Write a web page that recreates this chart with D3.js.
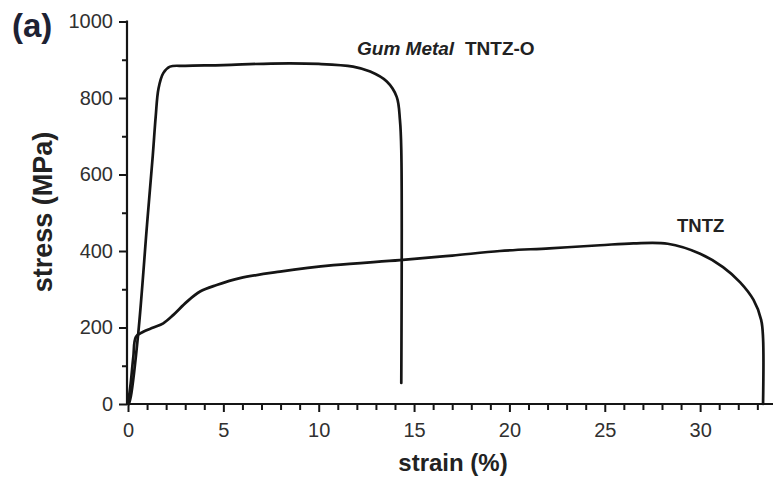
<!DOCTYPE html>
<html>
<head>
<meta charset="utf-8">
<script src="https://cdn.jsdelivr.net/npm/d3@7"></script>
<style>
html,body{margin:0;padding:0;background:#fff;}
svg{display:block;font-family:"Liberation Sans",Arial,sans-serif;}
</style>
</head>
<body>
<svg id="chart" width="773" height="477"></svg>
<script>
// ---- data ----
const xTicks = [0, 5, 10, 15, 20, 25, 30];
const yTicks = [0, 200, 400, 600, 800, 1000];
const gumStrain = [0.05, 0.15, 0.54, 1.0, 1.3, 1.45, 1.6, 1.85, 2.2, 3, 5, 7.5, 10, 11.8, 12.7, 13.57, 14.09, 14.26, 14.33, 14.33];
const gumStress = [0, 20, 186, 470, 650, 750, 825, 865, 882, 884, 886, 890, 889, 882, 869, 843, 803, 742, 664, 55];
const tntzStrain = [0, 0.14, 0.28, 0.42, 0.8, 1.33, 1.85, 2.38, 3.08, 3.78, 4.65, 5.87, 7.97, 10.77, 14.26, 17, 19.5, 22.1, 24.75, 26.5, 28.3, 30, 31.2, 32.1, 32.8, 33.2, 33.3, 33.3];
const tntzStress = [0, 54, 124, 176, 189, 200, 211, 233, 267, 294, 311, 329, 346, 363, 376, 388, 400, 407, 415, 420, 419, 393, 358, 318, 272, 220, 172, 0];
const labels = {panel: "(a)", xTitle: "strain (%)", yTitle: "stress (MPa)", gum: "Gum Metal", tntzo: "TNTZ-O", tntz: "TNTZ"};

const svg = d3.select("#chart");
const x = d3.scaleLinear().domain([0, 33.8]).range([128, 772.6]);
const y = d3.scaleLinear().domain([0, 1000]).range([404, 21.5]);
const ink = "#151515";

// minor ticks
const xMinor = d3.range(0, 34, 1).filter(v => v % 5 !== 0);
const yMinor = d3.range(100, 1000, 200);

svg.append("g").attr("transform", "translate(0,404)").attr("color", ink)
  .call(d3.axisBottom(x).tickValues(xMinor).tickSize(6).tickSizeOuter(0).tickFormat(""))
  .call(g => g.select(".domain").remove())
  .call(g => g.selectAll("line").attr("stroke-width", 2));
svg.append("g").attr("transform", "translate(127,0)").attr("color", ink)
  .call(d3.axisLeft(y).tickValues(yMinor).tickSize(5).tickSizeOuter(0).tickFormat(""))
  .call(g => g.select(".domain").remove())
  .call(g => g.selectAll("line").attr("stroke-width", 2));

// major axes
const xAxis = svg.append("g").attr("transform", "translate(0,404)").attr("color", ink)
  .call(d3.axisBottom(x).tickValues(xTicks).tickSize(8).tickSizeOuter(0).tickPadding(11).tickFormat(d3.format("d")));
const yAxis = svg.append("g").attr("transform", "translate(127,0)").attr("color", ink)
  .call(d3.axisLeft(y).tickValues(yTicks).tickSize(8).tickSizeOuter(0).tickPadding(6).tickFormat(d3.format("d")));
[xAxis, yAxis].forEach(g => {
  g.select(".domain").attr("stroke-width", 2.2);
  g.selectAll(".tick line").attr("stroke-width", 2);
  g.selectAll(".tick text").attr("fill", "#303030").style("font-size", "20px").style("font-family", "'Liberation Sans', Arial, sans-serif");
});
// extend axis lines
xAxis.select(".domain").attr("d", "M126,0H773");
yAxis.select(".domain").attr("d", `M0,${y(1000) - 1}V405`);

// curves
const line = d3.line().x(d => x(d[0])).y(d => y(d[1])).curve(d3.curveCatmullRom.alpha(0.5));
const gum = gumStrain.map((s, i) => [s, gumStress[i]]);
const tntz = tntzStrain.map((s, i) => [s, tntzStress[i]]);
[gum, tntz].forEach(data => {
  svg.append("path").datum(data).attr("d", line)
    .attr("fill", "none").attr("stroke", ink).attr("stroke-width", 2.7)
    .attr("stroke-linejoin", "round").attr("stroke-linecap", "round");
});

// texts
svg.append("text").attr("x", 12).attr("y", 37).text(labels.panel)
  .attr("fill", "#1e2233").style("font-size", "33px").style("font-weight", "bold");
svg.append("text").attr("transform", "translate(52,212) rotate(-90)").attr("text-anchor", "middle")
  .text(labels.yTitle).attr("fill", "#222").style("font-size", "27px").style("font-weight", "bold");
svg.append("text").attr("x", 453).attr("y", 471).attr("text-anchor", "middle")
  .text(labels.xTitle).attr("fill", "#222").style("font-size", "24px").style("font-weight", "bold");
svg.append("text").attr("x", 357).attr("y", 55).text(labels.gum)
  .attr("fill", "#222").style("font-size", "19px").style("font-weight", "bold").style("font-style", "italic");
svg.append("text").attr("x", 465).attr("y", 55).text(labels.tntzo)
  .attr("fill", "#222").style("font-size", "19px").style("font-weight", "bold");
svg.append("text").attr("x", 677).attr("y", 232).text(labels.tntz)
  .attr("fill", "#222").style("font-size", "18.5px").style("font-weight", "bold");
</script>
</body>
</html>
